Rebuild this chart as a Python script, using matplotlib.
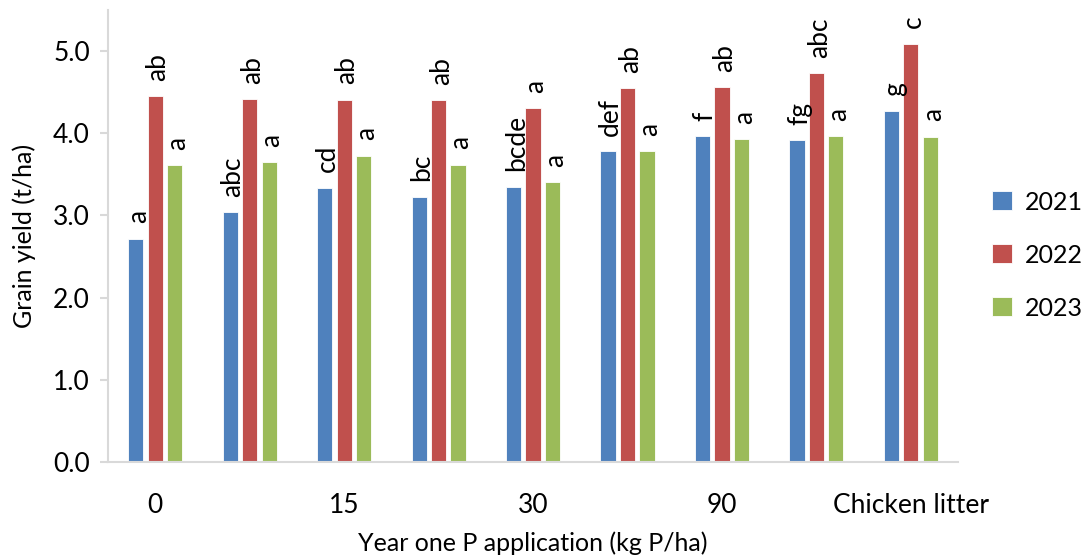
import matplotlib.pyplot as plt
import numpy as np

plt.rcParams['font.family'] = ['Lato', 'DejaVu Sans']

# tick labels on the x axis (Excel only showed every second one)
x_labels = ["0", "", "15", "", "30", "", "90", "", "Chicken litter"]

years = ["2021", "2022", "2023"]
yield2021 = [2.72, 3.04, 3.34, 3.23, 3.35, 3.78, 3.97, 3.92, 4.27]
yield2022 = [4.45, 4.42, 4.41, 4.40, 4.31, 4.55, 4.56, 4.73, 5.09]
yield2023 = [3.61, 3.65, 3.73, 3.62, 3.41, 3.78, 3.93, 3.97, 3.96]

letters2021 = ["a", "abc", "cd", "bc", "bcde", "def", "f", "fg", "g"]
letters2022 = ["ab", "ab", "ab", "ab", "a", "ab", "ab", "abc", "c"]
letters2023 = ["a", "a", "a", "a", "a", "a", "a", "a", "a"]

colours = ["#4F81BD", "#C0504D", "#9BBB59"]

fig = plt.figure(figsize=(10.83, 5.6), dpi=100)
ax = fig.add_axes([0.0997, 0.175, 0.785, 0.807])

x = np.arange(len(x_labels))
width = 0.16
step = 0.206

allYields = [yield2021, yield2022, yield2023]
allLetters = [letters2021, letters2022, letters2023]

for k in range(3):
    pos = x + (k - 1) * step
    bars = ax.bar(pos, allYields[k], width, color=colours[k], label=years[k],
                  edgecolor="white", linewidth=0.6)
    for b, txt in zip(bars, allLetters[k]):
        ax.annotate(txt, (b.get_x() + b.get_width() / 2, b.get_height()),
                    xytext=(2, 11), textcoords="offset points",
                    rotation=90, ha="center", va="bottom", fontsize=19)

ax.set_xlim(-0.5, len(x_labels) - 0.5)
ax.set_ylim(0, 5.5)
ax.set_yticks([0, 1, 2, 3, 4, 5])
ax.set_yticklabels(["0.0", "1.0", "2.0", "3.0", "4.0", "5.0"])
ax.set_xticks(x)
ax.set_xticklabels(x_labels)

for s in ["top", "right"]:
    ax.spines[s].set_visible(False)
for s in ["left", "bottom"]:
    ax.spines[s].set_color("#D9D9D9")
    ax.spines[s].set_linewidth(1.5)

ax.tick_params(axis="y", length=6, width=1.5, color="#D9D9D9", labelsize=19, pad=7)
ax.tick_params(axis="x", length=0, labelsize=19, pad=22)

ax.set_ylabel("Grain yield (t/ha)", fontsize=18, labelpad=12)
ax.set_xlabel("Year one P application (kg P/ha)", fontsize=18, labelpad=10)

ax.legend(loc="center left", bbox_to_anchor=(1.04, 0.458), frameon=False,
          fontsize=18, handlelength=0.8, handleheight=0.8, labelspacing=1.2,
          handletextpad=0.5, borderaxespad=0, borderpad=0)

fig.savefig("out.png", dpi=100)
